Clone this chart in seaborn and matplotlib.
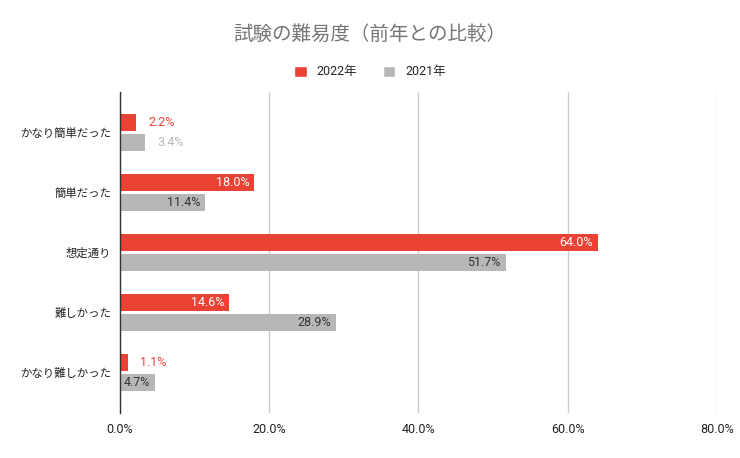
import matplotlib
matplotlib.use("Agg")
import matplotlib.pyplot as plt
from matplotlib.patches import Patch
from matplotlib.ticker import FuncFormatter
import numpy as np
import pandas as pd
import seaborn as sns

# data
categories = ["かなり簡単だった", "簡単だった", "想定通り", "難しかった", "かなり難しかった"]
values_2022 = [2.2, 18.0, 64.0, 14.6, 1.1]
values_2021 = [3.4, 11.4, 51.7, 28.9, 4.7]
years = ["2022年", "2021年"]

red = "#ea4335"
gray = "#b7b7b7"

df = pd.DataFrame({
    "category": categories * 2,
    "value": values_2022 + values_2021,
    "year": [years[0]] * len(categories) + [years[1]] * len(categories),
})

sns.set_style("white")
plt.rcParams["font.family"] = ["Roboto", "Noto Sans CJK JP", "DejaVu Sans"]

fig = plt.figure(figsize=(7.4, 4.58), dpi=100)
ax = fig.add_axes([0.162, 0.098, 0.807, 0.701])

sns.barplot(data=df, y="category", x="value", hue="year", order=categories,
            hue_order=years, palette=[red, gray], width=0.667, orient="h",
            saturation=1, ax=ax, legend=False)

# shrink bars to leave a small gap between the pair
for p in ax.patches:
    c = p.get_y() + p.get_height() / 2
    h = 0.283
    p.set_height(h)
    p.set_y(c - h / 2)
    p.set_linewidth(0)

# value labels
for cont, col, incol in zip(ax.containers, [red, gray], ["white", "#333333"]):
    for bar in cont:
        v = bar.get_width()
        yc = bar.get_y() + bar.get_height() / 2
        txt = f"{v:.1f}%"
        if v >= 4:
            ax.annotate(txt, (v, yc), xytext=(-3.5, 0), textcoords="offset points",
                        ha="right", va="center", fontsize=9, color=incol)
        else:
            ax.annotate(txt, (v, yc), xytext=(8.5, 0), textcoords="offset points",
                        ha="left", va="center", fontsize=9, color=col)

ax.set_xlim(0, 80)
ax.set_ylim(4.675, -0.675)
ax.set_xticks([0, 20, 40, 60, 80])
ax.xaxis.set_major_formatter(FuncFormatter(lambda x, _: f"{x:.1f}%"))
ax.grid(axis="x", color="#cccccc", linewidth=1)
ax.set_axisbelow(True)
ax.set_xlabel("")
ax.set_ylabel("")
ax.tick_params(axis="both", length=0, colors="#222222")
ax.tick_params(axis="x", pad=7, labelsize=9)
ax.tick_params(axis="y", pad=6, labelsize=8.2)
for s in ["top", "right", "bottom"]:
    ax.spines[s].set_visible(False)
ax.spines["left"].set_color("#333333")
ax.spines["left"].set_linewidth(1)
ax.spines["left"].set_zorder(5)

fig.suptitle("試験の難易度（前年との比較）", x=0.5, y=0.945, fontsize=14,
             color="#757575")

handles = [Patch(facecolor=red, label=years[0]), Patch(facecolor=gray, label=years[1])]
fig.legend(handles=handles, loc="center", bbox_to_anchor=(0.5, 0.843), ncol=2,
           frameon=False, fontsize=9, handlelength=1.0, handleheight=1.0,
           columnspacing=2.0, handletextpad=0.8)

fig.savefig("out.png", dpi=100)
